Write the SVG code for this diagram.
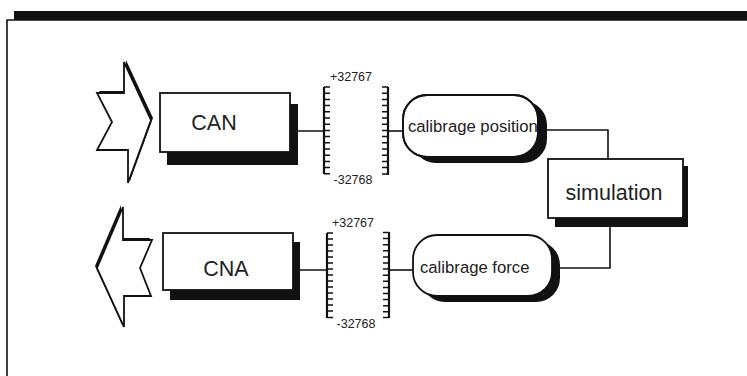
<svg xmlns="http://www.w3.org/2000/svg" width="747" height="376" viewBox="0 0 747 376">
<defs>
<style>
.ln{fill:none;stroke:#111;stroke-width:1.6}
.box{fill:#fff;stroke:#111;stroke-width:1.8}
.sh{fill:#111}
.big{font-family:"Liberation Sans",Arial,sans-serif;font-size:21.5px;fill:#222;text-anchor:middle}
.mid{font-family:"Liberation Sans",Arial,sans-serif;font-size:16.7px;fill:#222}
.sm{font-family:"Liberation Sans",Arial,sans-serif;font-size:12.5px;fill:#222;text-anchor:middle}
.rul{fill:none;stroke:#111;stroke-width:1.5}
.sp{fill:none;stroke:#111;stroke-width:2.2}
</style>
<clipPath id="cpPos"><rect x="404" y="96" width="133" height="60" rx="23"/></clipPath>
</defs>
<rect width="747" height="376" fill="#fff"/>
<g id="frame">
<rect x="14" y="11" width="733" height="9" fill="#111"/>
<path d="M7,376 V20 H747" class="ln" stroke-width="2"/>
</g>
<g id="connectors">
<path class="ln" d="M290,131 H324"/>
<path class="ln" d="M388,131 H403"/>
<path class="ln" d="M545,130 H608 V159"/>
<path class="ln" d="M610,218 V268 H558"/>
<path class="ln" d="M293,270 H327"/>
<path class="ln" d="M389,270 H413"/>
</g>
<g id="arrow-in">
<polygon class="sh" transform="translate(2,-2)" points="124,62 124,93 97,93 112,122 97,150 128,150 128,183 151,120"/>
<polygon class="box" stroke-width="1.4" points="124,62 124,93 97,93 112,122 97,150 128,150 128,183 151,120"/>
</g>
<g id="arrow-out">
<polygon class="sh" transform="translate(-2,-2)" points="123,207 123,240 152,240 140,268 151,296 124,296 124,327 97,268"/>
<polygon class="box" stroke-width="1.4" points="123,207 123,240 152,240 140,268 151,296 124,296 124,327 97,268"/>
</g>
<g id="can">
<rect class="sh" x="167" y="104" width="131" height="61"/>
<rect class="box" x="160" y="93" width="130" height="59"/>
<text class="big" x="214" y="130">CAN</text>
</g>
<g id="cna">
<rect class="sh" x="170" y="242" width="130" height="58"/>
<rect class="box" x="163" y="233" width="130" height="57"/>
<text class="big" x="226" y="276">CNA</text>
</g>
<g id="ruler-top">
<path class="sp" d="M324,87 V174 M388,87 V175"/>
<path class="rul" d="M324,87h6 M324,93.2h6 M324,99.4h6 M324,105.6h6 M324,111.8h6 M324,118h6 M324,124.2h6 M324,130.4h6 M324,136.6h6 M324,142.8h6 M324,149h6 M324,155.2h6 M324,161.4h6 M324,167.6h6 M324,173.8h6"/>
<path class="rul" d="M388,87h-6 M388,93.2h-6 M388,99.4h-6 M388,105.6h-6 M388,111.8h-6 M388,118h-6 M388,124.2h-6 M388,130.4h-6 M388,136.6h-6 M388,142.8h-6 M388,149h-6 M388,155.2h-6 M388,161.4h-6 M388,167.6h-6 M388,174h-6"/>
<text class="sm" x="351" y="81">+32767</text>
<text class="sm" x="353" y="184">-32768</text>
</g>
<g id="ruler-bottom">
<path class="sp" d="M327,233 V318 M389,232 V318"/>
<path class="rul" d="M327,233h6 M327,239h6 M327,245h6 M327,251h6 M327,257h6 M327,263h6 M327,269h6 M327,275h6 M327,281h6 M327,287h6 M327,293h6 M327,299h6 M327,305h6 M327,311h6 M327,317.5h6"/>
<path class="rul" d="M389,232.5h-6 M389,238.6h-6 M389,244.7h-6 M389,250.8h-6 M389,256.9h-6 M389,263h-6 M389,269.1h-6 M389,275.2h-6 M389,281.3h-6 M389,287.4h-6 M389,293.5h-6 M389,299.6h-6 M389,305.7h-6 M389,311.8h-6 M389,317.5h-6"/>
<text class="sm" x="353" y="227">+32767</text>
<text class="sm" x="356" y="328">-32768</text>
</g>
<g id="calib-pos">
<rect class="sh" x="412" y="101" width="135" height="62" rx="24"/>
<rect class="box" x="403" y="95" width="135" height="62" rx="24"/>
<text class="mid" x="408" y="132" clip-path="url(#cpPos)">calibrage position</text>
<rect x="403" y="95" width="135" height="62" rx="24" fill="none" stroke="#111" stroke-width="1.8"/>
</g>
<g id="calib-force">
<rect class="sh" x="421" y="241" width="139" height="61" rx="24"/>
<rect class="box" x="413" y="235" width="139" height="61" rx="24"/>
<text class="mid" x="420" y="273">calibrage force</text>
</g>
<g id="simulation">
<rect class="sh" x="555" y="166" width="133" height="61"/>
<rect class="box" x="548" y="159" width="135" height="59"/>
<text class="big" x="614" y="200">simulation</text>
</g>
</svg>
